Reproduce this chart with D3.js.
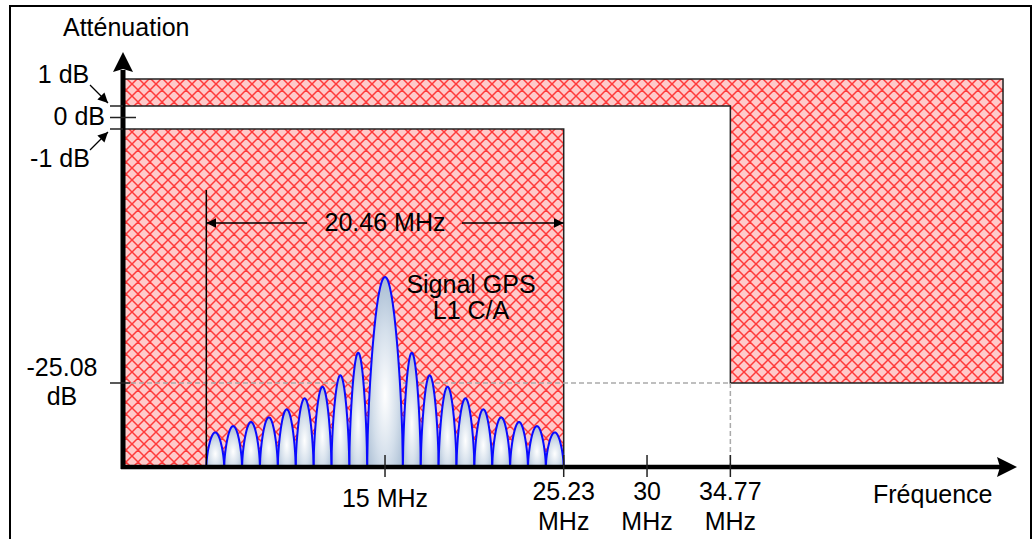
<!DOCTYPE html>
<html><head><meta charset="utf-8">
<script src="https://cdn.jsdelivr.net/npm/d3@7"></script>
<style>
html,body{margin:0;padding:0;background:#fff;}
svg{display:block;}
text{font-family:"Liberation Sans",Arial,sans-serif;fill:#000;}
</style></head>
<body>
<svg id="chart" width="1034" height="539"></svg>
<script>
// ---------- data ----------
const chipRate = 1.023;            // MHz, lobe width
const centerFreq = 15;             // MHz
const bandLow = 4.77, bandHigh = 25.23;   // MHz  (20.46 MHz span)
const maskEdge = 34.77;            // MHz
const xTicks = [15, 25.23, 30, 34.77];
const xTickLabels = [["15 MHz"], ["25.23", "MHz"], ["30", "MHz"], ["34.77", "MHz"]];
const yMarks = [1, 0, -1];                 // dB
const yMarkLabels = ["1 dB", "0 dB", "-1 dB"];
const rejectLevel = -25.08;                // dB
const mainLobePeak = -15.03;               // dB
// side lobe peaks (dB), from the main lobe outward
const sideLobePeaks = [-22.21, -24.35, -25.42, -26.49, -27.50, -28.24, -28.67, -29.04, -29.62];
const xMax = 51.18, maskRight = 50.38;     // MHz
const yBottom = -32.8, maskTop = 3.6, yTop = 6.1;   // dB

const FS = 25;

// ---------- scales ----------
const svg = d3.select("#chart");
const x = d3.scaleLinear().domain([0, xMax]).range([123, 1017]);
const y = d3.scaleLinear()
  .domain([yBottom, rejectLevel, -1, 0, 1, maskTop, yTop])
  .range([467, 383, 129, 117.5, 106, 79, 52]);

// frame
svg.append("rect").attr("x", 10).attr("y", 6).attr("width", 1021).attr("height", 545)
  .attr("fill", "none").attr("stroke", "#000").attr("stroke-width", 2);

// defs
const defs = svg.append("defs");
const pat = defs.append("pattern").attr("id", "hatch").attr("patternUnits", "userSpaceOnUse")
  .attr("width", 12).attr("height", 12);
pat.append("rect").attr("width", 12).attr("height", 12).attr("fill", "#ffcaca");
pat.append("path").attr("d", "M0,0L12,12M0,12L12,0M-6,6L6,18M6,-6L18,6M-6,6L6,-6M6,18L18,6")
  .attr("stroke", "#ff3a3a").attr("stroke-width", 1.5).attr("fill", "none");
const grad = defs.append("radialGradient").attr("id", "lobeGrad")
  .attr("cx", 0.5).attr("cy", 0.62).attr("r", 0.62);
grad.append("stop").attr("offset", "0%").attr("stop-color", "#ffffff");
grad.append("stop").attr("offset", "55%").attr("stop-color", "#d4dfeb");
grad.append("stop").attr("offset", "100%").attr("stop-color", "#a9bdd3");
const ah = defs.append("marker").attr("id", "ah").attr("viewBox", "0 0 10 10")
  .attr("refX", 10).attr("refY", 5).attr("markerWidth", 10).attr("markerHeight", 10)
  .attr("markerUnits", "userSpaceOnUse").attr("orient", "auto-start-reverse");
ah.append("path").attr("d", "M0,0L10,5L0,10Z").attr("fill", "#000");

// mask regions
const upperMask = [[0, maskTop], [maskRight, maskTop], [maskRight, rejectLevel], [maskEdge, rejectLevel], [maskEdge, 1], [0, 1]];
const lowerMask = [[0, -1], [bandHigh, -1], [bandHigh, yBottom], [0, yBottom]];
const line = d3.line().x(d => x(d[0])).y(d => y(d[1]));
[upperMask, lowerMask].forEach(m => {
  svg.append("path").attr("d", line(m) + "Z").attr("fill", "url(#hatch)")
    .attr("stroke", "#222").attr("stroke-width", 1.5);
});

// dashed reference lines
svg.append("line").attr("x1", x(0)).attr("x2", x(maskEdge)).attr("y1", y(rejectLevel)).attr("y2", y(rejectLevel))
  .attr("stroke", "#aaa").attr("stroke-width", 1.5).attr("stroke-dasharray", "5,3");
svg.append("line").attr("x1", x(maskEdge)).attr("x2", x(maskEdge)).attr("y1", y(rejectLevel)).attr("y2", y(yBottom))
  .attr("stroke", "#aaa").attr("stroke-width", 1.5).attr("stroke-dasharray", "5,3");

// lobes
const lobes = [{a: centerFreq - chipRate, b: centerFreq + chipRate, p: mainLobePeak}];
sideLobePeaks.forEach((p, k) => {
  const i = k + 1;
  lobes.push({a: centerFreq - chipRate * (i + 1), b: centerFreq - chipRate * i, p});
  lobes.push({a: centerFreq + chipRate * i, b: centerFreq + chipRate * (i + 1), p});
});
function lobePath(d) {
  const n = 60, pts = [];
  for (let j = 0; j <= n; j++) {
    const t = j / n;
    const f = d.a + t * (d.b - d.a);
    const px = x(f);
    const base = y(yBottom), top = y(d.p);
    pts.push([px, base - (base - top) * Math.pow(Math.sin(Math.PI * t), 0.6)]);
  }
  return d3.line()(pts);
}
svg.selectAll(".lobe").data(lobes).join("path").attr("class", "lobe")
  .attr("d", lobePath).attr("fill", "url(#lobeGrad)")
  .attr("stroke", "#0a0aff").attr("stroke-width", 2);

// band limit line + dimension arrow
svg.append("line").attr("x1", x(bandLow)).attr("x2", x(bandLow)).attr("y1", 190).attr("y2", y(yBottom))
  .attr("stroke", "#000").attr("stroke-width", 1.5);
const dimY = 223;
svg.append("line").attr("x1", 307).attr("x2", x(bandLow)).attr("y1", dimY).attr("y2", dimY)
  .attr("stroke", "#000").attr("stroke-width", 1.5).attr("marker-end", "url(#ah)");
svg.append("line").attr("x1", 462).attr("x2", x(bandHigh)).attr("y1", dimY).attr("y2", dimY)
  .attr("stroke", "#000").attr("stroke-width", 1.5).attr("marker-end", "url(#ah)");
svg.append("text").attr("x", x((bandLow + bandHigh) / 2)).attr("y", 231).attr("text-anchor", "middle")
  .attr("font-size", FS).text((bandHigh - bandLow).toFixed(2) + " MHz");

// signal label
svg.append("text").attr("x", 471).attr("y", 293).attr("text-anchor", "middle").attr("font-size", FS).text("Signal GPS");
svg.append("text").attr("x", 471).attr("y", 319).attr("text-anchor", "middle").attr("font-size", FS).text("L1 C/A");

// axes
svg.append("line").attr("x1", x(0)).attr("x2", x(0)).attr("y1", y(yBottom) + 2).attr("y2", 70)
  .attr("stroke", "#000").attr("stroke-width", 5);
svg.append("path").attr("d", `M${x(0)},52L${x(0) + 10},72L${x(0)},69L${x(0) - 10},72Z`).attr("fill", "#000");
svg.append("line").attr("x1", x(0) - 2).attr("x2", 1000).attr("y1", y(yBottom)).attr("y2", y(yBottom))
  .attr("stroke", "#000").attr("stroke-width", 4.5);
svg.append("path").attr("d", `M1017,${y(yBottom)}L997,${y(yBottom) - 10}L1000,${y(yBottom)}L997,${y(yBottom) + 10}Z`).attr("fill", "#000");

// y ticks
svg.selectAll(".ytick").data(yMarks).join("line").attr("class", "ytick")
  .attr("x1", 110).attr("x2", d => d === 0 ? 136 : x(0))
  .attr("y1", d => y(d)).attr("y2", d => y(d)).attr("stroke", "#222").attr("stroke-width", 1.5);
svg.append("line").attr("x1", 110).attr("x2", 130).attr("y1", y(rejectLevel)).attr("y2", y(rejectLevel))
  .attr("stroke", "#222").attr("stroke-width", 1.5);

// y labels
svg.append("text").attr("x", 63.5).attr("y", 83).attr("text-anchor", "middle").attr("font-size", FS).text(yMarkLabels[0]);
svg.append("text").attr("x", 105).attr("y", 125).attr("text-anchor", "end").attr("font-size", FS).text(yMarkLabels[1]);
svg.append("text").attr("x", 60).attr("y", 167).attr("text-anchor", "middle").attr("font-size", FS).text(yMarkLabels[2]);
svg.append("line").attr("x1", 90).attr("y1", 85).attr("x2", 108).attr("y2", y(1) - 3)
  .attr("stroke", "#000").attr("stroke-width", 1.2).attr("marker-end", "url(#ah)");
svg.append("line").attr("x1", 90).attr("y1", 150).attr("x2", 108).attr("y2", y(-1) + 3)
  .attr("stroke", "#000").attr("stroke-width", 1.2).attr("marker-end", "url(#ah)");
svg.append("text").attr("x", 62).attr("y", 376).attr("text-anchor", "middle").attr("font-size", FS).text(rejectLevel.toFixed(2));
svg.append("text").attr("x", 62).attr("y", 405).attr("text-anchor", "middle").attr("font-size", FS).text("dB");
svg.append("text").attr("x", 63).attr("y", 36).attr("font-size", FS).text("Atténuation");

// x ticks
svg.selectAll(".xtick").data(xTicks).join("line").attr("class", "xtick")
  .attr("x1", d => x(d)).attr("x2", d => x(d)).attr("y1", 455).attr("y2", 477)
  .attr("stroke", "#222").attr("stroke-width", 1.5);
xTicks.forEach((t, i) => {
  const lab = xTickLabels[i];
  const tx = svg.append("text").attr("x", x(t)).attr("y", lab.length === 1 ? 507 : 500)
    .attr("text-anchor", "middle").attr("font-size", FS);
  lab.forEach((s, j) => tx.append("tspan").attr("x", x(t)).attr("dy", j === 0 ? 0 : 30).text(s));
});
svg.append("text").attr("x", 873).attr("y", 503).attr("font-size", FS).text("Fréquence");
</script>
</body></html>
